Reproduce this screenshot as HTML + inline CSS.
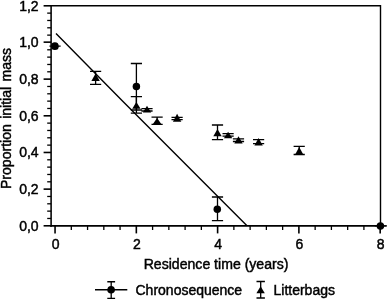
<!DOCTYPE html>
<html><head><meta charset="utf-8"><title>Chart</title>
<style>
html,body{margin:0;padding:0;background:#fff;}
svg{display:block;}
text{font-family:"Liberation Sans",Arial,sans-serif;fill:#000;stroke:#000;stroke-width:0.45;}
</style></head><body>
<svg width="387" height="299" viewBox="0 0 387 299">
<rect width="387" height="299" fill="#fff"/>

<path d="M51.1 5.8H380.5V225.9" fill="none" stroke="#000" stroke-width="1.4"/>
<path d="M51.1 5.1V226.70000000000002" fill="none" stroke="#000" stroke-width="1.55"/>
<path d="M50.35 225.9H381.2" fill="none" stroke="#000" stroke-width="1.6"/><path d="M380 225.9H387" stroke="#000" stroke-width="1.3"/>
<path d="M43.6 225.80H51.1" stroke="#000" stroke-width="1.6"/>
<text x="38.6" y="230.55" font-size="14" text-anchor="end">0,0</text>
<path d="M47.2 218.47H51.1" stroke="#000" stroke-width="1.3"/>
<path d="M47.2 211.13H51.1" stroke="#000" stroke-width="1.3"/>
<path d="M47.2 203.80H51.1" stroke="#000" stroke-width="1.3"/>
<path d="M47.2 196.47H51.1" stroke="#000" stroke-width="1.3"/>
<path d="M43.6 189.13H51.1" stroke="#000" stroke-width="1.6"/>
<text x="38.6" y="193.88" font-size="14" text-anchor="end">0,2</text>
<path d="M47.2 181.80H51.1" stroke="#000" stroke-width="1.3"/>
<path d="M47.2 174.47H51.1" stroke="#000" stroke-width="1.3"/>
<path d="M47.2 167.13H51.1" stroke="#000" stroke-width="1.3"/>
<path d="M47.2 159.80H51.1" stroke="#000" stroke-width="1.3"/>
<path d="M43.6 152.47H51.1" stroke="#000" stroke-width="1.6"/>
<text x="38.6" y="157.22" font-size="14" text-anchor="end">0,4</text>
<path d="M47.2 145.13H51.1" stroke="#000" stroke-width="1.3"/>
<path d="M47.2 137.80H51.1" stroke="#000" stroke-width="1.3"/>
<path d="M47.2 130.47H51.1" stroke="#000" stroke-width="1.3"/>
<path d="M47.2 123.13H51.1" stroke="#000" stroke-width="1.3"/>
<path d="M43.6 115.80H51.1" stroke="#000" stroke-width="1.6"/>
<text x="38.6" y="120.55" font-size="14" text-anchor="end">0,6</text>
<path d="M47.2 108.47H51.1" stroke="#000" stroke-width="1.3"/>
<path d="M47.2 101.13H51.1" stroke="#000" stroke-width="1.3"/>
<path d="M47.2 93.80H51.1" stroke="#000" stroke-width="1.3"/>
<path d="M47.2 86.47H51.1" stroke="#000" stroke-width="1.3"/>
<path d="M43.6 79.13H51.1" stroke="#000" stroke-width="1.6"/>
<text x="38.6" y="83.88" font-size="14" text-anchor="end">0,8</text>
<path d="M47.2 71.80H51.1" stroke="#000" stroke-width="1.3"/>
<path d="M47.2 64.47H51.1" stroke="#000" stroke-width="1.3"/>
<path d="M47.2 57.13H51.1" stroke="#000" stroke-width="1.3"/>
<path d="M47.2 49.80H51.1" stroke="#000" stroke-width="1.3"/>
<path d="M43.6 42.15H51.1" stroke="#000" stroke-width="1.6"/>
<text x="38.6" y="46.90" font-size="14" text-anchor="end">1,0</text>
<path d="M47.2 35.13H51.1" stroke="#000" stroke-width="1.3"/>
<path d="M47.2 27.80H51.1" stroke="#000" stroke-width="1.3"/>
<path d="M47.2 20.47H51.1" stroke="#000" stroke-width="1.3"/>
<path d="M47.2 13.13H51.1" stroke="#000" stroke-width="1.3"/>
<path d="M43.6 5.80H51.1" stroke="#000" stroke-width="1.6"/>
<text x="38.6" y="10.55" font-size="14" text-anchor="end">1,2</text>
<path d="M55.05 225.9V233.4" stroke="#000" stroke-width="1.6"/>
<text x="55.65" y="249.3" font-size="14" text-anchor="middle">0</text>
<path d="M71.31 225.9V230" stroke="#000" stroke-width="1.3"/>
<path d="M87.56 225.9V230" stroke="#000" stroke-width="1.3"/>
<path d="M103.82 225.9V230" stroke="#000" stroke-width="1.3"/>
<path d="M120.07 225.9V230" stroke="#000" stroke-width="1.3"/>
<path d="M136.33 225.9V233.4" stroke="#000" stroke-width="1.6"/>
<text x="136.93" y="249.3" font-size="14" text-anchor="middle">2</text>
<path d="M152.59 225.9V230" stroke="#000" stroke-width="1.3"/>
<path d="M168.84 225.9V230" stroke="#000" stroke-width="1.3"/>
<path d="M185.10 225.9V230" stroke="#000" stroke-width="1.3"/>
<path d="M201.35 225.9V230" stroke="#000" stroke-width="1.3"/>
<path d="M217.61 225.9V233.4" stroke="#000" stroke-width="1.6"/>
<text x="218.21" y="249.3" font-size="14" text-anchor="middle">4</text>
<path d="M233.87 225.9V230" stroke="#000" stroke-width="1.3"/>
<path d="M250.12 225.9V230" stroke="#000" stroke-width="1.3"/>
<path d="M266.38 225.9V230" stroke="#000" stroke-width="1.3"/>
<path d="M282.63 225.9V230" stroke="#000" stroke-width="1.3"/>
<path d="M298.89 225.9V233.4" stroke="#000" stroke-width="1.6"/>
<text x="299.49" y="249.3" font-size="14" text-anchor="middle">6</text>
<path d="M315.15 225.9V230" stroke="#000" stroke-width="1.3"/>
<path d="M331.40 225.9V230" stroke="#000" stroke-width="1.3"/>
<path d="M347.66 225.9V230" stroke="#000" stroke-width="1.3"/>
<path d="M363.91 225.9V230" stroke="#000" stroke-width="1.3"/>
<path d="M380.17 225.9V233.4" stroke="#000" stroke-width="1.6"/>
<text x="380.77" y="249.3" font-size="14" text-anchor="middle">8</text>
<path d="M56.0 33.4L121.5 100L247.0 225.8" stroke-linejoin="round" stroke="#000" stroke-width="1.4" fill="none"/>
<path d="M55.05 46.20V46.20M49.45 46.20H60.65M49.45 46.20H60.65" stroke="#000" stroke-width="1.3" fill="none"/>
<circle cx="54.90" cy="46.20" r="3.85" fill="#000"/>
<path d="M136.40 63.50V110.00M130.80 63.50H142.00M130.80 110.00H142.00" stroke="#000" stroke-width="1.3" fill="none"/>
<circle cx="136.40" cy="86.40" r="3.75" fill="#000"/>
<path d="M217.50 197.00V220.60M211.90 197.00H223.10M211.90 220.60H223.10" stroke="#000" stroke-width="1.3" fill="none"/>
<circle cx="217.30" cy="209.30" r="3.75" fill="#000"/>
<path d="M380.40 225.90V225.90M374.80 225.90H386.00M374.80 225.90H386.00" stroke="#000" stroke-width="1.3" fill="none"/>
<circle cx="380.40" cy="225.90" r="3.75" fill="#000"/>
<path d="M95.60 71.40V84.40M90.00 71.40H101.20M90.00 84.40H101.20" stroke="#000" stroke-width="1.3" fill="none"/>
<path d="M95.60 73.50L99.80 80.90H91.40Z" fill="#000"/>
<path d="M136.40 96.70V113.20M130.80 96.70H142.00M130.80 113.20H142.00" stroke="#000" stroke-width="1.3" fill="none"/>
<path d="M136.40 102.00L140.60 108.80H132.20Z" fill="#000"/>
<path d="M147.00 108.60V111.00M141.40 108.60H152.60M141.40 111.00H152.60" stroke="#000" stroke-width="1.3" fill="none"/>
<path d="M147.00 105.70L151.20 112.40H142.80Z" fill="#000"/>
<path d="M157.10 117.10V124.40M151.50 117.10H162.70M151.50 124.40H162.70" stroke="#000" stroke-width="1.3" fill="none"/>
<path d="M157.10 118.00L161.30 124.00H152.90Z" fill="#000"/>
<path d="M177.10 117.30V119.70M171.50 117.30H182.70M171.50 119.70H182.70" stroke="#000" stroke-width="1.3" fill="none"/>
<path d="M177.10 113.80L181.30 121.70H172.90Z" fill="#000"/>
<path d="M217.50 125.00V139.70M211.90 125.00H223.10M211.90 139.70H223.10" stroke="#000" stroke-width="1.3" fill="none"/>
<path d="M217.50 129.00L221.70 136.20H213.30Z" fill="#000"/>
<path d="M228.10 133.70V136.10M222.50 133.70H233.70M222.50 136.10H233.70" stroke="#000" stroke-width="1.3" fill="none"/>
<path d="M228.10 131.80L232.30 138.20H223.90Z" fill="#000"/>
<path d="M238.50 138.80V141.50M232.90 138.80H244.10M232.90 141.50H244.10" stroke="#000" stroke-width="1.3" fill="none"/>
<path d="M238.50 136.30L242.70 143.50H234.30Z" fill="#000"/>
<path d="M258.60 139.60V143.60M253.00 139.60H264.20M253.00 143.60H264.20" stroke="#000" stroke-width="1.3" fill="none"/>
<path d="M258.60 138.00L262.80 145.50H254.40Z" fill="#000"/>
<path d="M299.20 146.35V154.50M293.60 146.35H304.80M293.60 154.50H304.80" stroke="#000" stroke-width="1.3" fill="none"/>
<path d="M299.20 147.00L303.40 154.80H295.00Z" fill="#000"/>
<text x="143.7" y="268.7" font-size="14.08">Residence time (years)</text>
<text transform="translate(10.6 189.0) rotate(-90)" font-size="14.05" style="word-spacing:1.45px">Proportion initial mass</text>
<path d="M95.0 289.8H127.3" stroke="#000" stroke-width="1.4"/>
<path d="M111.20 281.75V298.50M107.30 281.75H115.10M107.30 298.50H115.10" stroke="#000" stroke-width="1.3" fill="none"/>
<circle cx="111.10" cy="289.80" r="3.8" fill="#000"/>
<text x="135.5" y="294.8" font-size="14">Chronosequence</text>
<path d="M260.70 281.50V298.00M256.50 281.50H264.90M256.50 298.00H264.90" stroke="#000" stroke-width="1.3" fill="none"/>
<path d="M260.60 286.20L264.80 293.20H256.40Z" fill="#000"/>
<text x="273.5" y="294.8" font-size="14">Litterbags</text>
</svg></body></html>
